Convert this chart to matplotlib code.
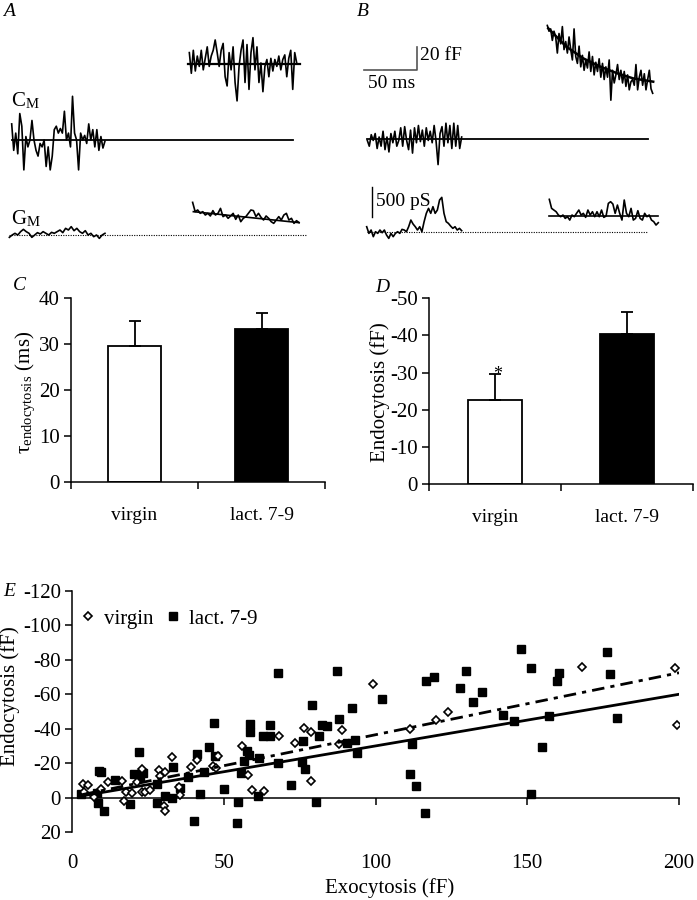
import numpy as np
import matplotlib
matplotlib.use('Agg')
import matplotlib.pyplot as plt
from matplotlib.lines import Line2D

plt.rcParams['font.family'] = ['Liberation Serif', 'DejaVu Serif']
plt.rcParams['mathtext.fontset'] = 'stix'
plt.rcParams['font.size'] = 13
plt.rcParams['axes.linewidth'] = 1.1
plt.rcParams['axes.unicode_minus'] = False

# ---------------- data ----------------
# Panel A: membrane capacitance (fF, relative to pre-stimulus baseline) and conductance (pS)
a_cm_pre = [14, -9, 6, -12, 23, 12, -26, 3, -6, 0, 17, 0, -9, -14, -3, -6, 0, -23, -6, -26, -14, 9, 12, 6,
            10, 6, 25, 0, 6, -6, 38, 6, 0, -26, 6, 0, 4, -3, 14, 0, 9, -6, 9, -9, 3, -7, -1]
a_cm_post = [76, 58, 78, 60, 73, 64, 78, 61, 71, 81, 64, 73, 78, 87, 76, 64, 78, 84, 55, 47, 76, 61, 81, 50,
             34, 64, 78, 87, 50, 83, 44, 76, 89, 61, 81, 50, 67, 42, 64, 70, 55, 71, 60, 70, 64, 73, 61, 70,
             74, 55, 71, 78, 44, 76, 67]
a_cm_post_fit = [66, 66]
a_gm_pre = [-39, 0, 28, 0, 56, 94, 56, 28, -39, 0, 39, 17, 56, 28, 0, 44, 28, 56, 83, 39, 111, 83, 139, 72,
            111, 56, 28, 72, 0, 28, -28, 0, -56, 0, 28]
a_gm_post = [544, 389, 417, 361, 389, 333, 361, 317, 406, 333, 361, 444, 306, 333, 278, 317, 361, 261, 333,
             222, 278, 306, 361, 417, 406, 306, 361, 294, 250, 317, 278, 222, 194, 250, 306, 250, 333, 361,
             250, 278, 194, 239, 206]
a_gm_post_fit = [389, 206]

# Panel B
b_cm_pre = [-1, -6, 4, -1, 5, -8, 2, -6, 7, -9, 2, -11, 5, -3, 7, -6, -1, 10, -6, 11, -1, -9, 8, -12, 10,
            -3, 12, -2, 8, -6, 10, -1, 7, -3, 12, -2, -22, 5, 11, -6, 14, -3, 12, -8, 14, -6, 12, -8, 2]
b_cm_post = [99, 94, 96, 86, 94, 89, 75, 92, 83, 98, 78, 85, 75, 89, 78, 69, 96, 72, 66, 81, 63, 73, 60, 69,
             62, 76, 59, 72, 56, 67, 59, 70, 54, 66, 52, 63, 54, 69, 34, 60, 49, 56, 65, 52, 60, 49, 59, 46,
             56, 43, 50, 52, 47, 65, 43, 54, 60, 47, 57, 43, 52, 60, 44, 40]
b_cm_fit_t = [171, 188, 204, 220, 236, 251, 270]
b_cm_fit = [96.5, 80.6, 70.4, 63.2, 57.4, 53.0, 50.1]
b_gm_pre = [83, -28, 28, -83, 0, -28, 28, -17, 28, -56, -111, -28, -83, -28, 0, -28, 39, 28, 0, 83, 194,
            128, 83, 28, 83, 0, 167, 306, 389, 306, 417, 306, 361, 528, 572, 306, 167, 139, 94, 56, 83, 28,
            56, 17]
b_gm_post = [539, 389, 361, 333, 278, 250, 278, 222, 250, 194, 278, 250, 306, 361, 278, 306, 239, 361, 278,
             333, 250, 333, 250, 361, 239, 261, 472, 500, 461, 306, 444, 306, 194, 528, 306, 250, 389, 194,
             222, 350, 222, 194, 306, 250, 278, 194, 167, 111, 150]
b_gm_post_fit = [261, 261]

# Panels C and D
groups = ['virgin', 'lact. 7-9']
tau_mean = [29.7, 33.4]
tau_sem = [5.3, 3.5]
endo_mean = [-22.6, -40.3]
endo_sem = [7.1, 5.9]

# Panel E
virgin_x = [3.5, 5.2, 4.0, 7.1, 9.7, 11.9, 16.5, 17.0, 17.8, 19.8, 21.4, 22.9, 23.1, 24.1, 25.6, 28.6, 29.1,
            30.2, 30.5, 30.8, 33.1, 35.4, 35.7, 39.1, 41.2, 46.3, 47.3, 48.2, 55.9, 57.9, 59.3, 63.2, 68.2,
            73.6, 76.4, 78.6, 78.6, 87.9, 88.9, 99.2, 111.4, 119.9, 124.0, 168.1, 198.6, 199.4]
virgin_y = [-7.8, -7.4, -3.0, -0.6, -4.8, -8.9, -9.5, 1.9, -3.3, -2.5, -9.3, -16.5, -3.1, -3.1, -4.3, -16.1,
            -12.8, 4.8, 7.8, -14.7, -23.8, -6.4, -1.6, -18.0, -21.9, -18.4, -16.9, -24.2, -29.7, -13.4, -4.5,
            -3.9, -36.0, -31.6, -40.7, -38.0, -9.9, -31.0, -39.3, -66.1, -39.9, -44.8, -49.6, -75.6, -75.4,
            -41.9]
lact_x = [3.0, 8.8, 9.6, 8.2, 8.5, 10.4, 14.1, 19.0, 20.5, 22.2, 22.5, 23.5, 28.0, 28.0, 30.8, 33.0, 33.3,
          35.5, 38.2, 40.1, 41.3, 42.1, 43.6, 45.3, 46.8, 47.0, 50.1, 54.4, 54.6, 55.6, 56.6, 57.5, 58.5, 58.8,
          58.4, 61.3, 61.6, 63.0, 65.2, 65.4, 67.9, 67.8, 72.2, 76.0, 75.9, 76.8, 79.0, 80.4, 81.3, 82.4, 84.0,
          87.4, 87.9, 90.7, 92.2, 93.3, 93.9, 102.3, 112.1, 111.4, 113.3, 116.4, 116.8, 119.3, 127.9, 129.8,
          132.2, 135.1, 141.9, 145.7, 147.9, 151.1, 151.4, 154.9, 157.1, 159.8, 160.5, 176.4, 177.2, 179.6]
lact_y = [-1.9, -15.7, -15.0, -2.5, 3.3, 7.8, -10.3, 3.7, -13.6, -26.7, -11.2, -14.0, -8.0, 2.9, -1.2, 0.0,
          -18.0, -5.4, -12.0, 13.6, -25.4, -1.9, -15.1, -29.3, -43.6, -24.2, -4.7, 14.5, 2.5, -14.1, -21.1,
          -27.3, -42.8, -38.2, -24.6, -1.2, -22.9, -35.9, -42.2, -36.0, -72.3, -20.0, -7.4, -33.1, -20.9,
          -16.5, -53.9, 2.7, -36.0, -42.2, -41.7, -73.8, -45.9, -31.6, -51.9, -33.5, -25.8, -57.2, -31.2,
          -13.6, -7.0, 9.1, -67.8, -70.0, -63.4, -73.4, -55.4, -61.2, -47.7, -44.6, -86.4, -2.1, -75.2,
          -29.3, -47.5, -68.0, -72.3, -84.7, -71.5, -46.3]
virgin_fit = (-0.36, -0.5)   # slope, intercept
lact_fit = (-0.30, 0.0)
e_xticks = [0, 50, 100, 150, 200]
e_yticks = [-120, -100, -80, -60, -40, -20, 0, 20]

# ---------------- layout helpers ----------------
W, H = 697, 900
fig = plt.figure(figsize=(6.97, 9.0), dpi=100)
TICK_FS = 15


def box(x0, y0, x1, y1):
    return [x0 / W, 1 - y1 / H, (x1 - x0) / W, (y1 - y0) / H]


def ftext(x, y, s, **kw):
    fig.text(x / W, 1 - y / H, s, **kw)


PX_PER_MS = 1.06
PX_PER_FF = 1.15
PS_TO_FF = 0.06 / PX_PER_FF
LW = 1.2


def trace_axes(px0, px1, t0_px, base_py):
    ax = fig.add_axes(box(px0, 0, px1, 250))
    ax.set_xlim((px0 - t0_px) / PX_PER_MS, (px1 - t0_px) / PX_PER_MS)
    ax.set_ylim((base_py - 250) / PX_PER_FF, base_py / PX_PER_FF)
    ax.axis('off')
    return ax


def seg(ax, t0, t1, vals, offset=0.0, scale=1.0, **kw):
    t = np.linspace(t0, t1, len(vals))
    ax.plot(t, offset + scale * np.asarray(vals, float), color='black', **kw)


# ---------------- Panel A ----------------
axA = trace_axes(0, 348, 12, 140)
gmA = -(235 - 140) / PX_PER_FF
seg(axA, 0, 265, [0, 0], lw=1.3)
seg(axA, -0.3, 87.7, a_cm_pre, lw=LW)
seg(axA, 167.3, 268.6, a_cm_post, lw=LW)
seg(axA, 166.3, 271.7, a_cm_post_fit, lw=1.6)
seg(axA, -2.8, 278.3, [0, 0], offset=gmA, lw=0.8, ls=(0, (1, 1.2)))
seg(axA, -2.5, 87.7, a_gm_pre, offset=gmA, scale=PS_TO_FF, lw=LW)
seg(axA, 170.4, 270.8, a_gm_post, offset=gmA, scale=PS_TO_FF, lw=LW)
seg(axA, 171.1, 270.8, a_gm_post_fit, offset=gmA, scale=PS_TO_FF, lw=1.2)
ftext(3, 12, 'A', style='italic', va='center', ha='left', fontsize=14)
ftext(11, 101, r'C$_\mathregular{M}$', va='center', ha='left', fontsize=15)
ftext(11, 219, r'G$_\mathregular{M}$', va='center', ha='left', fontsize=15)

# ---------------- Panel B ----------------
axB = trace_axes(350, 697, 367, 139.3)
gmB = -(231.7 - 139.3) / PX_PER_FF
seg(axB, 0.3, 265.4, [0, 0], lw=1.3)
seg(axB, 0.3, 89.3, b_cm_pre, lw=LW)
seg(axB, 170.1, 269.5, b_cm_post, lw=LW)
axB.plot(b_cm_fit_t, b_cm_fit, color='black', lw=1.8)
seg(axB, 0.3, 263.9, [0, 0], offset=gmB, lw=0.8, ls=(0, (1, 1.2)))
seg(axB, -0.3, 89.3, b_gm_pre, offset=gmB, scale=PS_TO_FF, lw=LW)
seg(axB, 172, 274.8, b_gm_post, offset=gmB, scale=PS_TO_FF, lw=LW)
seg(axB, 172, 274.8, b_gm_post_fit, offset=gmB, scale=PS_TO_FF, lw=1.2)
# scale bars: 50 ms, 20 fF, 500 pS
axB.plot([-2.8, 47.2, 47.2], [60.3, 60.3, 80.3], color='#555555', lw=1.2)
axB.plot([4.7, 4.7], [gmB + 243 * PS_TO_FF, gmB + 743 * PS_TO_FF], color='black', lw=1.0)
ftext(357, 12, 'B', style='italic', va='center', ha='left', fontsize=14)
ftext(420, 56, '20 fF', va='center', ha='left', fontsize=14)
ftext(368, 83, '50 ms', va='center', ha='left', fontsize=14)
ftext(376, 201, '500 pS', va='center', ha='left', fontsize=14)


# ---------------- Panels C and D ----------------
def bar_panel(rect, means, sems, ylim, yticks, upward_negative=False):
    ax = fig.add_axes(rect)
    ax.set_xlim(0, 2)
    ax.set_ylim(*ylim)
    pos = [0.5, 1.5]
    ax.bar(pos, means, width=0.41, color=['white', 'black'], edgecolor='black', linewidth=1.3, zorder=2)
    if upward_negative:
        yerr = [sems, [0, 0]]
    else:
        yerr = [[0, 0], sems]
    ax.errorbar(pos, means, yerr=yerr, fmt='none', ecolor='black', elinewidth=1.3, capsize=4.5,
                capthick=1.3, zorder=3)
    for s in ('top', 'right'):
        ax.spines[s].set_visible(False)
    ax.set_xticks([0, 1, 2])
    ax.set_xticklabels([])
    ax.set_xticks(pos, minor=True)
    ax.set_xticklabels(groups, minor=True)
    ax.tick_params(axis='x', which='major', direction='out', length=5, width=1.1)
    ax.tick_params(axis='x', which='minor', length=0, pad=18, labelsize=14)
    ax.set_yticks(yticks)
    ax.tick_params(axis='y', direction='out', length=5, width=1.1, labelsize=TICK_FS, pad=3)
    return ax


axC = bar_panel(box(71, 298.3, 325, 481.7), tau_mean, tau_sem, (0, 40), [0, 10, 20, 30, 40])
axC.set_ylabel(r'$\mathregular{\tau}_{\mathregular{endocytosis}}$ (ms)', fontsize=15)
axC.yaxis.set_label_coords(-0.13, 0.484)
ftext(13, 285, 'C', style='italic', va='center', ha='left', fontsize=14)

axD = bar_panel(box(429, 298.3, 693, 484), endo_mean, endo_sem, (0, -50), [0, -10, -20, -30, -40, -50],
                upward_negative=True)
axD.set_ylabel('Endocytosis (fF)', fontsize=15)
axD.yaxis.set_label_coords(-0.148, 0.493)
axD.annotate('*', xy=(0.5, endo_mean[0] - endo_sem[0]), xytext=(2, -7), textcoords='offset points',
             ha='center', va='bottom', fontsize=13)
ftext(375, 288, 'D', style='italic', va='center', ha='left', fontsize=14)

# ---------------- Panel E ----------------
axE = fig.add_axes(box(72, 591, 679, 832))
axE.set_xlim(0, 200)
axE.set_ylim(20, -120)
axE.plot(lact_x, lact_y, ls='none', marker='s', ms=5.2, mfc='black', mec='black', zorder=3)
axE.plot(virgin_x, virgin_y, ls='none', marker='D', ms=4.2, mfc='white', mec='black', mew=1.2, zorder=4)
xs = np.array([min(lact_x), 200.0])
axE.plot(xs, lact_fit[0] * xs + lact_fit[1], color='black', lw=2.0, zorder=5)
xv = np.array([min(virgin_x), 200.0])
axE.plot(xv, virgin_fit[0] * xv + virgin_fit[1], color='black', lw=2.0, dashes=(4.5, 2.2, 1.5, 2.2),
         zorder=5)
axE.spines['top'].set_visible(False)
axE.spines['right'].set_visible(False)
axE.spines['bottom'].set_position(('data', 0))
axE.set_xticks(e_xticks[1:])
axE.tick_params(axis='x', direction='out', length=5, width=1.1, labelbottom=False)
axE.set_yticks(e_yticks)
axE.set_yticklabels([str(v) for v in e_yticks])
axE.tick_params(axis='y', direction='out', length=5, width=1.1, labelsize=TICK_FS, pad=3)
secx = axE.secondary_xaxis('bottom')
secx.set_xticks(e_xticks)
secx.spines['bottom'].set_visible(False)
secx.tick_params(length=0, pad=16, labelsize=TICK_FS)
axE.set_ylabel('Endocytosis (fF)', fontsize=15)
axE.yaxis.set_label_coords(-0.086, 0.564)
ftext(390, 888, 'Exocytosis (fF)', va='center', ha='center', fontsize=15)
ftext(3, 592, 'E', style='italic', va='center', ha='left', fontsize=14)
handles = [Line2D([], [], ls='none', marker='D', ms=4.2, mfc='white', mec='black', mew=1.2),
           Line2D([], [], ls='none', marker='s', ms=5.2, mfc='black', mec='black')]
axE.legend(handles, groups, loc='upper left', bbox_to_anchor=(0.015, 0.925), ncol=2, frameon=False,
           handlelength=0.7, handletextpad=0.4, columnspacing=0.6, borderaxespad=0, borderpad=0,
           fontsize=15)

fig.savefig('out.png', dpi=100)
